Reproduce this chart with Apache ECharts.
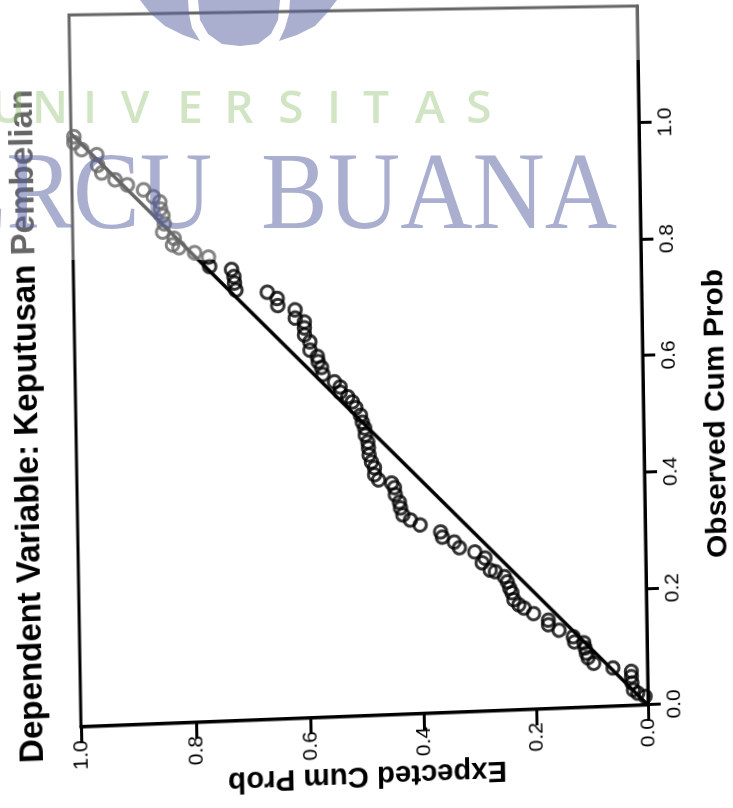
<!DOCTYPE html>
<html><head><meta charset="utf-8">
<style>
html,body{margin:0;padding:0;background:#fff;width:733px;height:808px;overflow:hidden}
#chart{position:absolute;left:0;top:0;width:880px;height:780px;transform-origin:0 0}
#wm{position:absolute;left:0;top:0;width:733px;height:808px}
</style>
<script src="https://cdn.jsdelivr.net/npm/echarts@6/dist/echarts.min.js"></script>
</head><body>
<div id="chart"></div><div id="wm"></div>
<script>
const titleText = 'Dependent Variable: Keputusan Pembelian';
const xName = 'Observed Cum Prob';
const yName = 'Expected Cum Prob';
const tickValues = [0, 0.2, 0.4, 0.6, 0.8, 1.0];
const observed = [.015,.021,.027,.039,.050,.059,.066,.075,.085,.093,.102,.111,.113,.122,.134,.144,.152,.164,.174,.180,.189,.201,.209,.220,.229,.238,.241,.254,.262,.273,.281,.291,.300,.309,.322,.331,.340,.352,.362,.375,.387,.395,.401,.410,.422,.432,.444,.456,.466,.478,.490,.500,.512,.525,.535,.544,.552,.561,.570,.583,.595,.605,.614,.625,.639,.651,.663,.673,.680,.694,.702,.714,.725,.730,.742,.753,.765,.771,.787,.795,.804,.809,.820,.831,.845,.859,.870,.882,.891,.903,.912,.921,.933,.946,.964,.973,.985,.995];
const expected = [.005,.018,.026,.028,.029,.029,.062,.096,.106,.109,.111,.113,.130,.132,.157,.176,.176,.202,.219,.228,.237,.240,.244,.248,.253,.269,.278,.292,.287,.305,.332,.341,.362,.365,.401,.418,.431,.435,.437,.444,.445,.450,.473,.480,.480,.485,.489,.490,.491,.495,.496,.500,.503,.511,.517,.525,.538,.538,.548,.568,.570,.576,.577,.590,.590,.599,.599,.599,.615,.615,.645,.646,.663,.718,.720,.721,.725,.763,.765,.789,.816,.827,.824,.844,.841,.843,.847,.848,.859,.876,.904,.925,.948,.955,.956,.982,.995,.995];
const referenceLine = [[0, 0], [1, 1]];
const logoShapes = [
  [[140,0],[150,13],[165,26],[183,35],[200,41],[192,28],[189,14],[188,0]],
  [[198,0],[200,20],[208,34],[222,44],[240,46],[258,44],[271,34],[278,20],[280,0]],
  [[290,0],[289,14],[285,28],[279,41],[297,35],[315,26],[327,13],[337,0]]
];
const universityLetters = ['U','N','I','V','E','R','S','I','T','A','S'];
const universityCenters = [8,50,90,135,190,239,291,334,376,430,479];

const GRID = {left:100, top:80, width:700, height:570};
// scanned page: where the four plot corners landed (TL, TR, BR, BL of the unrotated grid)
const corners = [[81,727],[69,15],[637,6],[648,705]];
function pageMatrix(g,p){
  const [x0,y0]=p[0],[x1,y1]=p[1],[x2,y2]=p[2],[x3,y3]=p[3];
  const dx1=x1-x2,dx2=x3-x2,sx=x0-x1+x2-x3,dy1=y1-y2,dy2=y3-y2,sy=y0-y1+y2-y3;
  const den=dx1*dy2-dx2*dy1;
  const G=(sx*dy2-dx2*sy)/den,H=(dx1*sy-sx*dy1)/den;
  const a=x1-x0+G*x1,b=x3-x0+H*x3,d=y1-y0+G*y1,e=y3-y0+H*y3;
  const w=g.width,h=g.height,l=g.left,t=g.top;
  const m11=a/w,m12=b/h,m13=x0-a*l/w-b*t/h;
  const m21=d/w,m22=e/h,m23=y0-d*l/w-e*t/h;
  const m31=G/w,m32=H/h,m33=1-G*l/w-H*t/h;
  return `matrix3d(${m11},${m21},0,${m31},${m12},${m22},0,${m32},0,0,1,0,${m13},${m23},0,${m33})`;
}
const chartEl=document.getElementById('chart');
chartEl.style.transform=pageMatrix(GRID,corners);

const font='"Liberation Sans", Arial, sans-serif';
const tickColor='#000';
const chart=echarts.init(chartEl,null,{renderer:'canvas'});
chart.setOption({
  animation:false,
  backgroundColor:'transparent',
  title:{text:titleText,left:392,top:12,textAlign:'center',textStyle:{fontFamily:font,fontSize:32.5,fontWeight:'bold',color:'#000'}},
  grid:{...GRID,show:true,borderColor:'#000',borderWidth:3,backgroundColor:'transparent'},
  xAxis:{type:'value',min:0,max:1.2,interval:0.2,splitLine:{show:false},
    name:xName,nameLocation:'middle',nameGap:60,nameMoveOverlap:false,
    nameTextStyle:{fontFamily:font,fontSize:30,fontWeight:'bold',color:'#000',padding:[0,120,0,0]},
    axisLine:{show:true,onZero:false,lineStyle:{color:'#000',width:3}},
    axisTick:{show:true,length:13,lineStyle:{color:tickColor,width:3},customValues:tickValues},
    axisLabel:{fontFamily:font,fontSize:21,color:'#000',margin:17,customValues:tickValues,formatter:v=>v.toFixed(1)}},
  yAxis:{type:'value',min:0,max:1,interval:0.2,splitLine:{show:false},
    name:yName,nameLocation:'middle',nameGap:44,nameRotate:90,nameMoveOverlap:false,
    nameTextStyle:{fontFamily:font,fontSize:29.5,fontWeight:'bold',color:'#000'},
    axisLine:{show:true,onZero:false,lineStyle:{color:'#000',width:3}},
    axisTick:{show:true,length:16,lineStyle:{color:tickColor,width:3}},
    axisLabel:{fontFamily:font,fontSize:21,color:'#000',margin:13,rotate:0,formatter:v=>v.toFixed(1)}},
  series:[
    {type:'line',data:referenceLine,symbol:'none',silent:true,lineStyle:{color:'#000',width:3.5},z:2},
    {type:'scatter',data:observed.map((o,i)=>[o,expected[i]]),symbol:'circle',symbolSize:12.5,clip:false,
      itemStyle:{color:'rgba(255,255,255,0)',borderColor:'#000',borderWidth:3},z:3}
  ]
});

const wm=echarts.init(document.getElementById('wm'),null,{renderer:'canvas'});
const blue='rgba(85,95,160,0.5)', green='rgba(140,190,110,0.4)';
wm.setOption({
  animation:false,
  graphic:[
    {type:'rect',shape:{x:0,y:0,width:733,height:60},style:{fill:'rgba(255,255,255,0.4)'}},
    {type:'rect',shape:{x:0,y:60,width:625,height:200},style:{fill:'rgba(255,255,255,0.4)'}},
    ...logoShapes.map(p=>({type:'polygon',shape:{points:p},style:{fill:blue}})),
    ...universityLetters.map((c,i)=>({type:'text',x:universityCenters[i],y:110,
      style:{text:c,font:'600 46px "Open Sans", sans-serif',fill:green,align:'center',verticalAlign:'middle'}})),
    {type:'text',x:212,y:199,scaleX:0.91,style:{text:'MERCU',font:'110px "Liberation Serif", serif',fill:blue,align:'right',verticalAlign:'middle'}},
    {type:'text',x:617,y:199,scaleX:0.91,style:{text:'BUANA',font:'110px "Liberation Serif", serif',fill:blue,align:'right',verticalAlign:'middle'}}
  ]
});
</script>
</body></html>
